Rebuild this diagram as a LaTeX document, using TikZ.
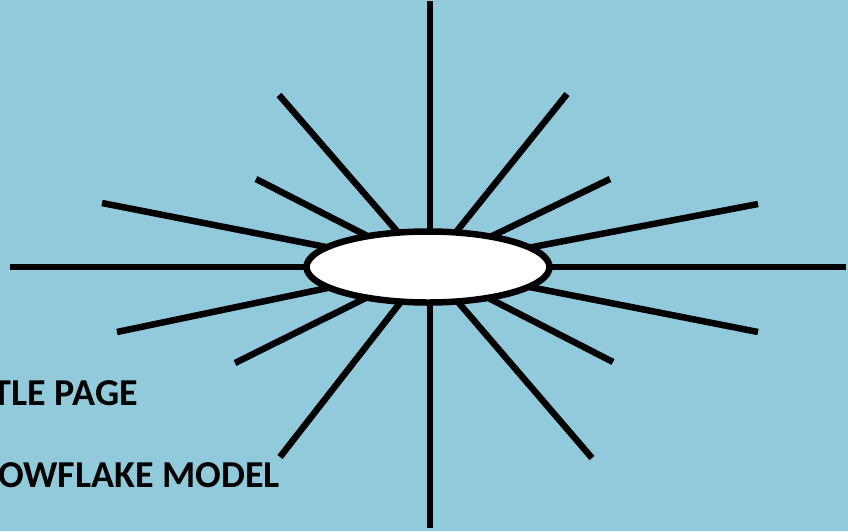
\documentclass[tikz,border=0pt]{standalone}
\usepackage{fontspec}
\setmainfont{Carlito}
\usetikzlibrary{shapes.geometric}
\definecolor{sky}{RGB}{145,203,219}

\tikzset{
  ray/.style={line width=6.5pt,line cap=butt},
  hub/.style={ellipse,draw,line width=6.5pt,fill=white,minimum width=243pt,minimum height=71pt,inner sep=0pt},
  caption/.style={anchor=base east,inner sep=0pt,font=\fontsize{38}{44}\selectfont\bfseries}
}

\begin{document}
\begin{tikzpicture}[x=1pt,y=-1pt]
    \useasboundingbox (0,0) rectangle (848,531);
    \clip (0,0) rectangle (848,531);
    \fill[sky] (0,0) rectangle (848,531);
    \coordinate (c) at (428,267);
    % spokes round the hub
    \foreach \x/\y [count=\i] in {
      279/95,256/179,102/203,10/267,117/332,235/363,280/457,
      567/94,610/179,758/204,846/267,758/332,613/362,592/458}
    {
      \coordinate (r\i) at (\x,\y);
      \draw[ray] (r\i) -- (c);
    }
    \coordinate (top) at (430,1);
    \coordinate (bottom) at (430,528);
    \draw[ray] (top) -- (bottom);
    \node[hub] (hub) at (c) {};
    \node[caption] (title) at (138,405) {TITLE PAGE};
    \node[caption] (model) at (280,487) {SNOWFLAKE MODEL};
\end{tikzpicture}
\end{document}
